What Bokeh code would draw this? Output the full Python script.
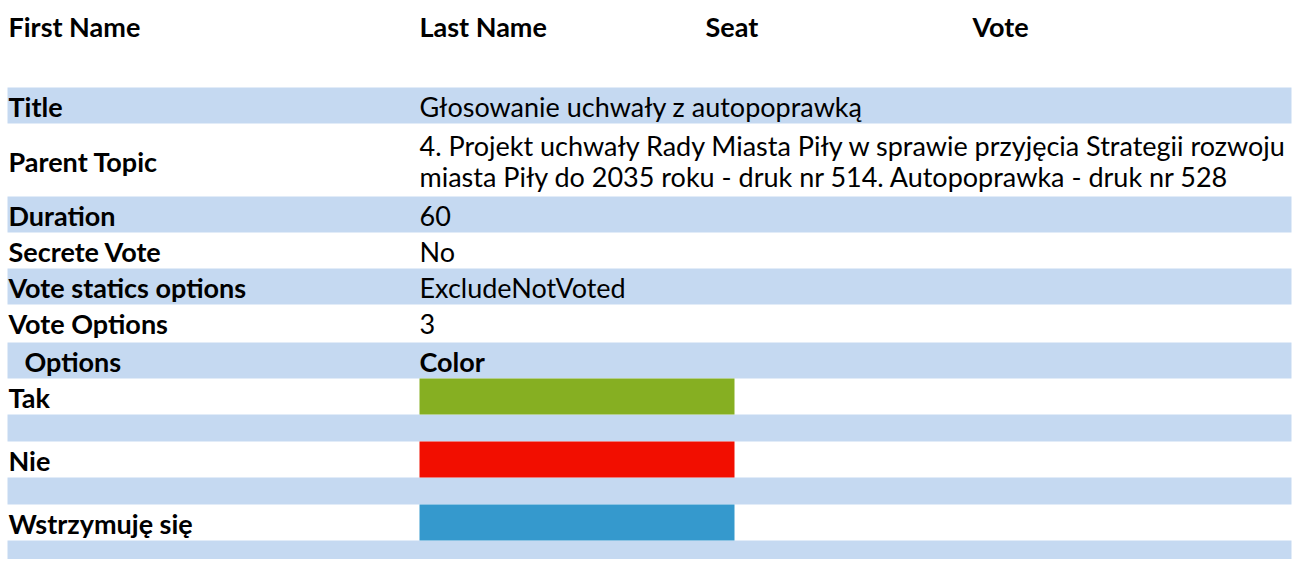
from bokeh.plotting import figure
from bokeh.models import Range1d
from bokeh.core.properties import value
from bokeh.embed import file_html
from bokeh.resources import INLINE

# ---- data ----
header_cols = ["First Name", "Last Name", "Seat", "Vote"]
info_labels = ["Title", "Parent Topic", "Duration", "Secrete Vote",
               "Vote statics options", "Vote Options"]
info_values = [
    ["Głosowanie uchwały z autopoprawką"],
    ["4. Projekt uchwały Rady Miasta Piły w sprawie przyjęcia Strategii rozwoju",
     "miasta Piły do 2035 roku - druk nr 514. Autopoprawka - druk nr 528"],
    ["60"],
    ["No"],
    ["ExcludeNotVoted"],
    ["3"],
]
option_header = ["Options", "Color"]
option_names = ["Tak", "Nie", "Wstrzymuję się"]
option_colors = ["#86AF22", "#F20E00", "#3599CD"]

# ---- layout ----
FONT = "Lato"
FS = "27px"
BAND = "#C5D9F1"
W, H = 1292, 559
BAND_L, BAND_R = 7, 1291
col_x = [8, 419, 705, 972]
swatch_r = 734
ROW = 36
GAP = 27
LINE = 31

p = figure(width=W, height=H, x_range=Range1d(0, W), y_range=Range1d(H, 0),
           output_backend="svg", toolbar_location=None, min_border=0)
p.axis.visible = False
p.grid.visible = False
p.outline_line_color = None
p.background_fill_color = "white"
p.border_fill_color = "white"


def txt(xs, ys, ts, bold=False):
    p.text(x=xs, y=ys, text=ts, text_font=value(FONT), text_font_size=FS,
           text_baseline="middle", text_align="left", text_color="#000000",
           text_font_style="bold" if bold else "normal")


# header
txt(col_x, [26] * 4, header_cols, bold=True)

band_l, band_r, band_t, band_b = [], [], [], []
lx, ly, lt = [], [], []
vx, vy, vt = [], [], []

y = 87
for i, (lab, vals) in enumerate(zip(info_labels, info_values)):
    h = ROW if len(vals) == 1 else 73
    t, b = y, y + h
    if i % 2 == 0:
        band_l.append(BAND_L); band_r.append(BAND_R); band_t.append(t); band_b.append(b)
    c = (t + b) / 2 + 1
    lx.append(col_x[0]); ly.append(c); lt.append(lab)
    n = len(vals)
    for k, v in enumerate(vals):
        vx.append(col_x[1]); vy.append(c + (k - (n - 1) / 2) * LINE); vt.append(v)
    y = b
y += 2

# options section
band_l.append(BAND_L); band_r.append(BAND_R); band_t.append(y); band_b.append(y + ROW)
hdr_c = y + ROW / 2 + 1
y += ROW
sw_l, sw_r, sw_t, sw_b, sw_c = [], [], [], [], []
ox, oyy, ot = [], [], []
for name, col in zip(option_names, option_colors):
    t, b = y, y + ROW
    sw_l.append(col_x[1]); sw_r.append(swatch_r); sw_t.append(t); sw_b.append(b); sw_c.append(col)
    ox.append(col_x[0]); oyy.append((t + b) / 2 + 1); ot.append(name)
    y = b
    band_l.append(BAND_L); band_r.append(BAND_R); band_t.append(y); band_b.append(y + GAP)
    y += GAP

p.quad(left=band_l, right=band_r, top=band_t, bottom=band_b,
       fill_color=BAND, line_color=None)
p.quad(left=sw_l, right=sw_r, top=sw_t, bottom=sw_b, fill_color=sw_c, line_color=None)

txt(lx, ly, lt, bold=True)
txt(vx, vy, vt)
txt([24, col_x[1]], [hdr_c, hdr_c], option_header, bold=True)
txt(ox, oyy, ot, bold=True)

open("out.html", "w").write(file_html(p, INLINE))
